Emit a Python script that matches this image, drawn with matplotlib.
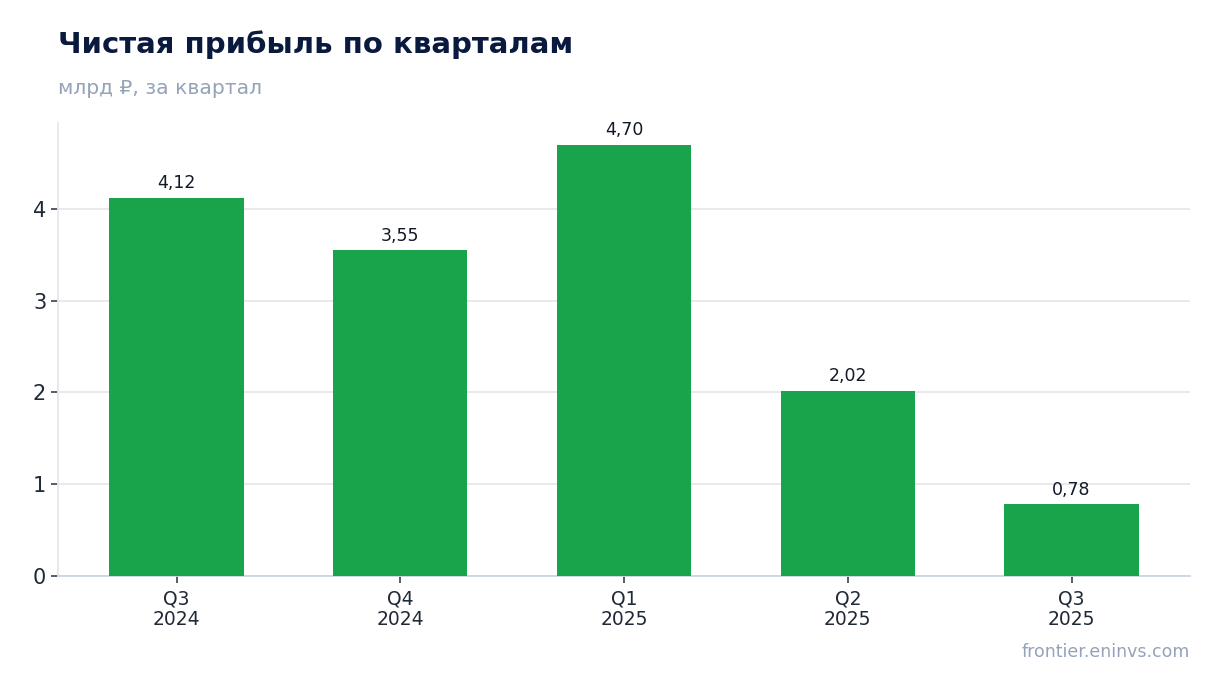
import matplotlib.pyplot as plt
import numpy as np

# data
quarters = ['Q3\n2024', 'Q4\n2024', 'Q1\n2025', 'Q2\n2025', 'Q3\n2025']
profit = [4.12, 3.55, 4.70, 2.02, 0.78]
value_labels = ['4,12', '3,55', '4,70', '2,02', '0,78']

plt.rcParams['font.family'] = ['DejaVu Sans']

fig = plt.figure(figsize=(12.2, 6.93), dpi=100)
ax = fig.add_axes([0.0475, 0.1688, 0.928, 0.6537])

x = np.arange(len(quarters))
ax.bar(x, profit, width=0.6, color='#19a34a', zorder=3)

for xi, v, lab in zip(x, profit, value_labels):
    ax.annotate(lab, (xi, v), xytext=(0, 4), textcoords='offset points',
                ha='center', va='bottom', fontsize=12.5, color='#111827')

ax.set_xlim(-0.53, 4.53)
ax.set_ylim(0, 4.935)
ax.set_xticks(x)
ax.set_xticklabels(quarters, fontsize=13.5, color='#1f2937', linespacing=1.1)
ax.set_yticks([0, 1, 2, 3, 4])
ax.tick_params(axis='y', labelsize=15, colors='#1f2937', length=5, width=1.2)
ax.tick_params(axis='x', length=5, width=1.2, color='#374151', pad=5)
ax.tick_params(axis='y', color='#374151')

ax.grid(axis='y', color='#e5e7eb', linewidth=1.3, zorder=0)
for s in ['top', 'right']:
    ax.spines[s].set_visible(False)
ax.spines['left'].set_color('#e5e7eb')
ax.spines['left'].set_linewidth(1.3)
ax.spines['bottom'].set_color('#cbd5e1')
ax.spines['bottom'].set_linewidth(1.3)

fig.text(0.0475, 0.936, 'Чистая прибыль по кварталам', fontsize=21,
         fontweight='bold', color='#0a1a3f', va='center', ha='left')
fig.text(0.0475, 0.873, 'млрд ₽, за квартал', fontsize=14.6,
         color='#94a3b8', va='center', ha='left')
fig.text(0.9754, 0.059, 'frontier.eninvs.com', fontsize=12.5,
         color='#94a3b8', va='center', ha='right')

plt.savefig('out.png', dpi=100)
